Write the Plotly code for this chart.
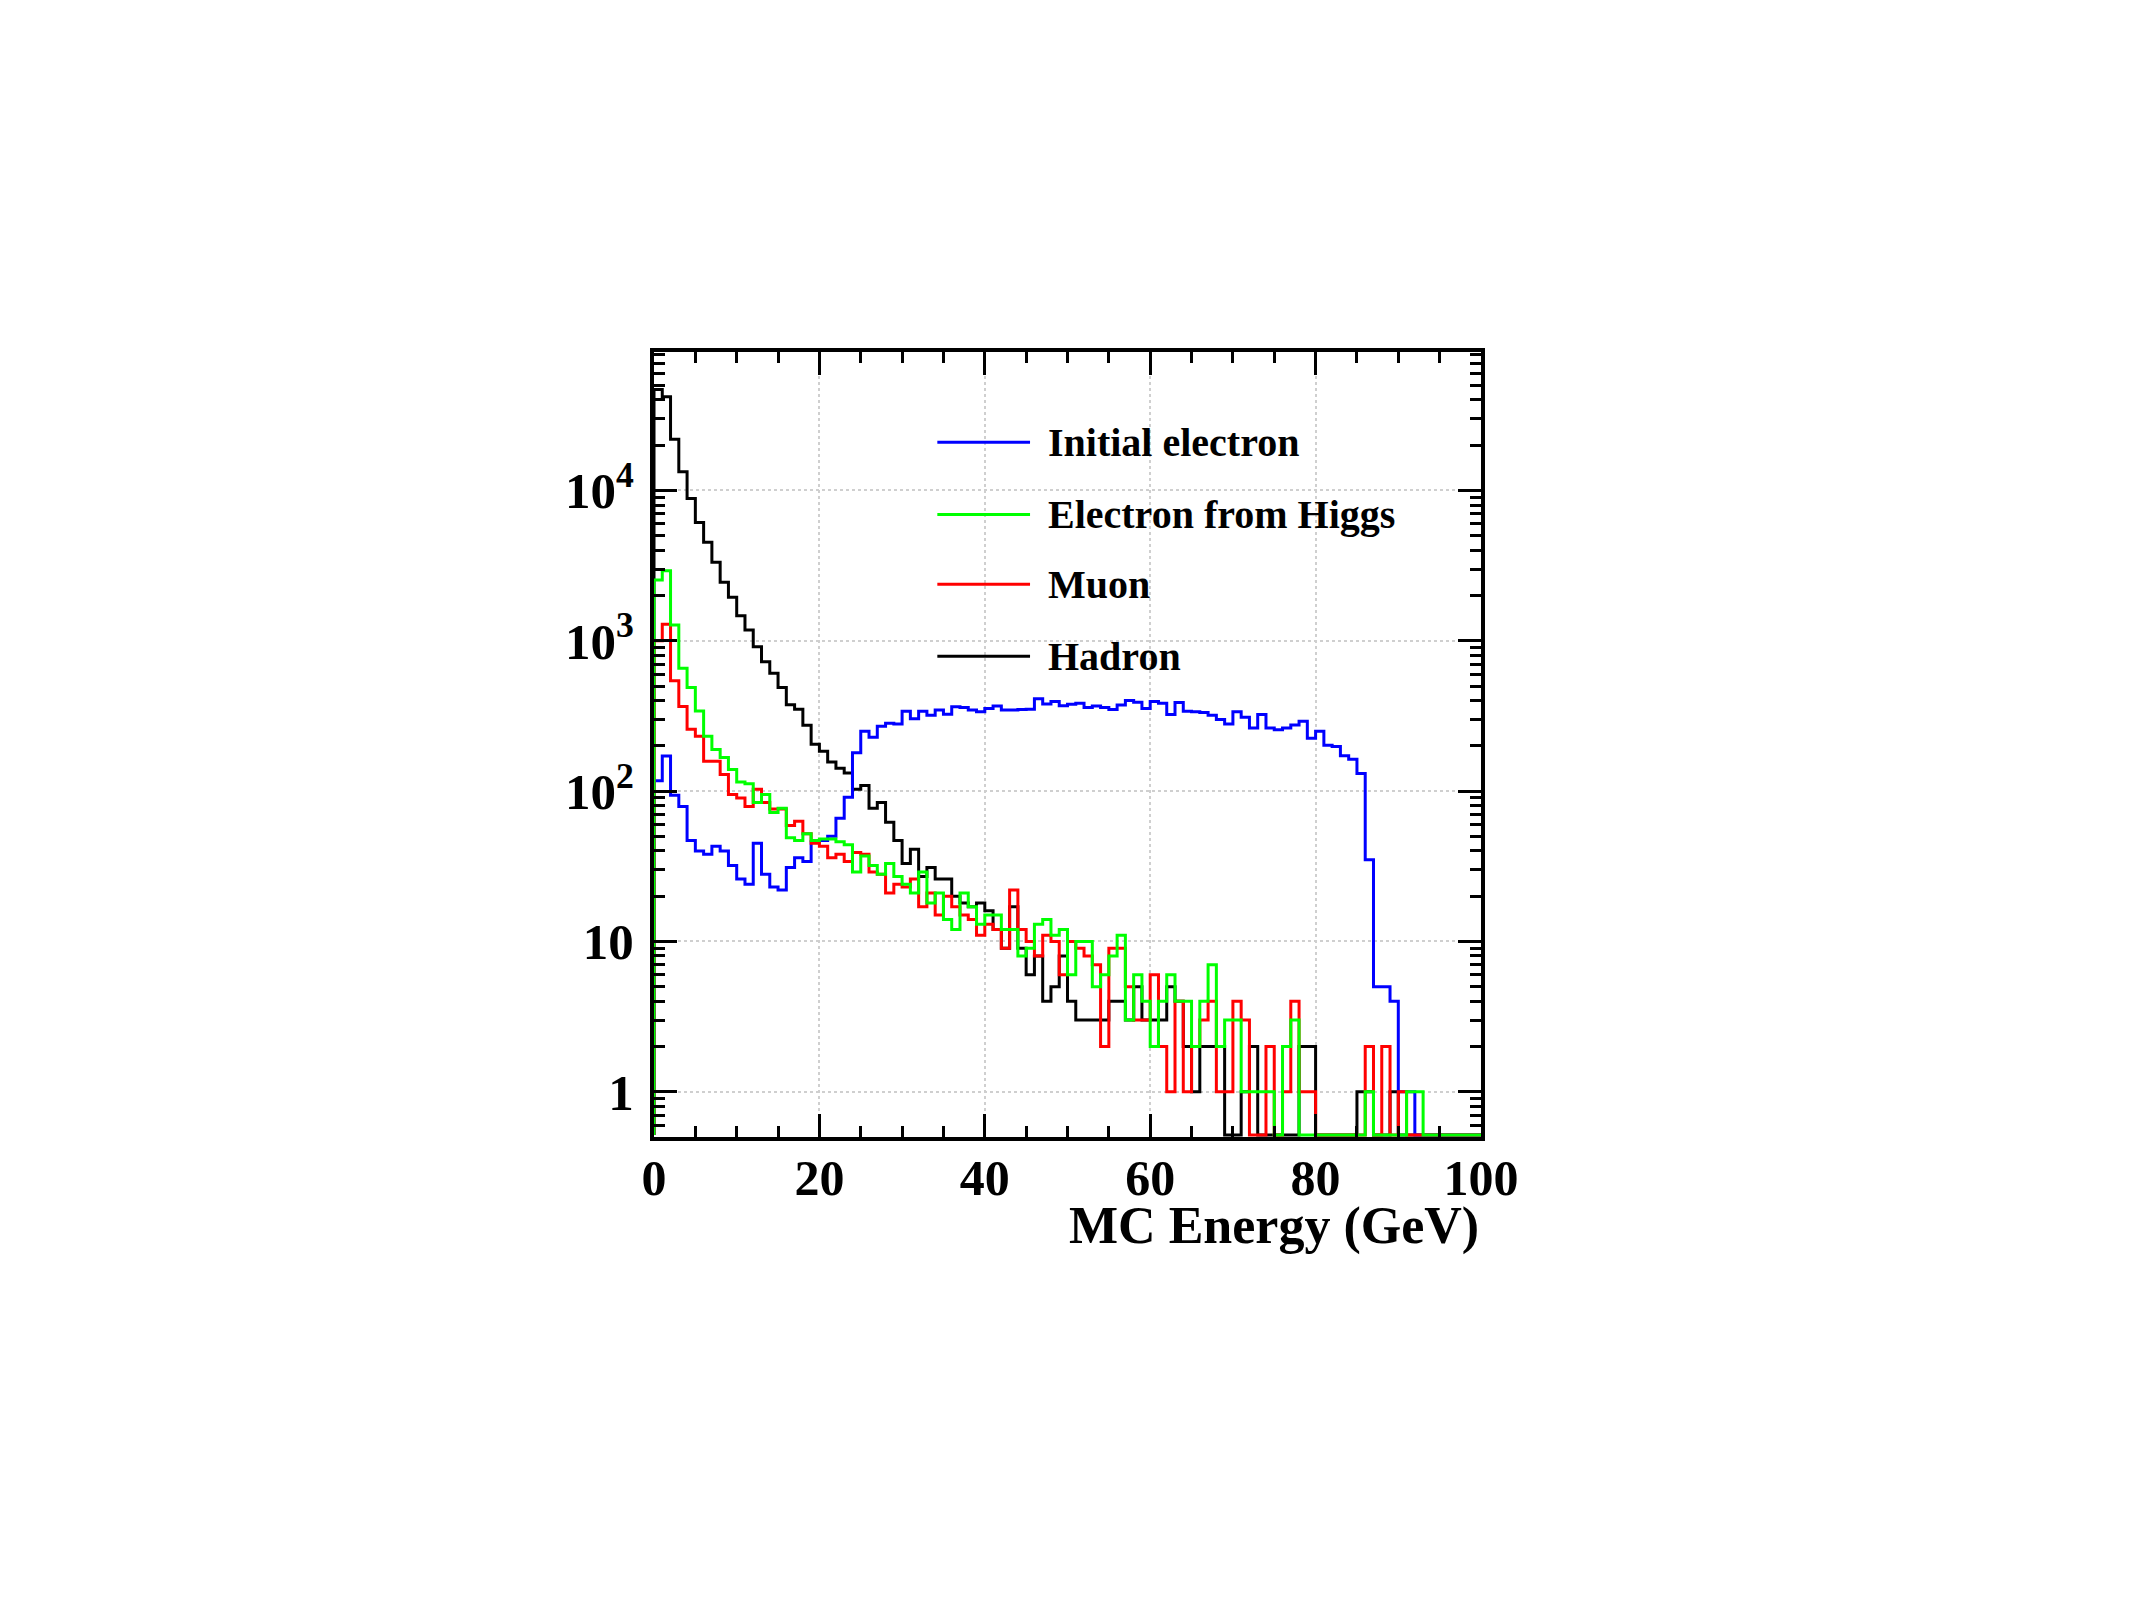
import numpy as np
import plotly.graph_objects as go

# ---------------- data (1 GeV bins, 0-100 GeV) ----------------
bin_edges = list(range(0, 101))

initial_electron = [
    117, 171, 94, 79, 47, 40, 38, 43, 40, 32,
    26, 24, 45, 28, 23, 22, 31, 36, 34, 46,
    47, 50, 66, 91, 180, 250, 228, 270, 283, 280,
    340, 303, 340, 320, 346, 325, 364, 360, 346, 337,
    355, 368, 346, 346, 349, 351, 411, 380, 394, 370,
    378, 384, 360, 368, 360, 349, 374, 400, 390, 355,
    394, 384, 323, 388, 340, 337, 333, 320, 299, 280,
    337, 310, 263, 323, 263, 256, 263, 275, 292, 225,
    250, 202, 198, 172, 163, 131, 35, 5, 5, 4,
    1, 1, 0, 0, 0, 0, 0, 0, 0, 0,
]

electron_from_higgs = [
    2535, 2923, 1274, 657, 488, 341, 232, 189, 167, 139,
    115, 112, 84, 95, 72, 77, 49, 47, 52, 47,
    48, 48, 46, 44, 29, 37, 32, 28, 33, 27,
    24, 21, 29, 18, 21, 14, 12, 21, 17, 13,
    15, 15, 12, 12, 8, 9, 13, 14, 11, 12,
    6, 10, 10, 5, 6, 8, 11, 3, 6, 4,
    2, 4, 6, 4, 4, 2, 4, 7, 2, 3,
    3, 1, 1, 1, 1, 0, 2, 3, 0, 0,
    0, 0, 0, 0, 0, 0, 1, 0, 0, 0,
    0, 1, 1, 0, 0, 0, 0, 0, 0, 0,
]

muon = [
    1000, 1290, 543, 365, 258, 232, 158, 158, 129, 95,
    90, 79, 103, 84, 76, 76, 59, 63, 52, 45,
    43, 36, 38, 34, 39, 38, 29, 28, 21, 24,
    23, 26, 17, 21, 15, 20, 17, 15, 14, 11,
    13, 12, 9, 22, 12, 10, 8, 11, 10, 6,
    10, 9, 8, 7, 2, 9, 9, 5, 3, 3,
    6, 2, 1, 4, 1, 2, 3, 4, 1, 1,
    4, 3, 0, 0, 2, 0, 1, 4, 1, 1,
    0, 0, 0, 0, 0, 0, 2, 0, 2, 0,
    1, 0, 0, 0, 0, 0, 0, 0, 0, 0,
]

hadron = [
    47000, 42000, 21900, 13300, 8850, 6130, 4515, 3325, 2447, 1945,
    1468, 1180, 914, 726, 608, 488, 375, 350, 274, 205,
    184, 156, 142, 132, 103, 109, 77, 84, 62, 47,
    33, 41, 27, 31, 26, 26, 20, 18, 17, 18,
    16, 12, 9, 17, 9, 6, 8, 4, 5, 8,
    4, 3, 3, 3, 3, 4, 4, 3, 5, 3,
    3, 3, 5, 4, 2, 1, 2, 2, 2, 0,
    0, 1, 2, 0, 0, 0, 0, 0, 2, 2,
    0, 0, 0, 0, 0, 1, 1, 0, 0, 1,
    0, 0, 0, 0, 0, 0, 0, 0, 0, 0,
]

series_names = ["Initial electron", "Electron from Higgs", "Muon", "Hadron"]
series_colors = ["#0000ff", "#00ff00", "#ff0000", "#000000"]

x_tick_vals = [0, 20, 40, 60, 80, 100]
y_tick_vals = [1, 10, 100, 1000, 10000]
y_tick_text = ["1", "10", "10<sup>2</sup>", "10<sup>3</sup>", "10<sup>4</sup>"]
x_title = "MC Energy (GeV)"

# ---------------- figure ----------------
Y_LOG_MIN = np.log10(0.5)
Y_LOG_MAX = 4.921
FLOOR = 10 ** (Y_LOG_MIN + 0.014)  # empty bins drawn on the frame bottom (ROOT style)
FONT = "Liberation Serif"


def step_xy(values):
    v = np.array(values, dtype=float)
    v = np.where(v > 0, v, FLOOR)
    x = [bin_edges[0]] + bin_edges
    y = [FLOOR] + list(v) + [v[-1]]
    return x, y


fig = go.Figure()
data_map = {
    "Initial electron": initial_electron,
    "Electron from Higgs": electron_from_higgs,
    "Muon": muon,
    "Hadron": hadron,
}
draw_order = ["Hadron", "Initial electron", "Muon", "Electron from Higgs"]
for name in draw_order:
    color = series_colors[series_names.index(name)]
    x, y = step_xy(data_map[name])
    fig.add_trace(go.Scatter(
        x=x, y=y, mode="lines", name=name,
        line=dict(color=color, width=3, shape="hv"),
        showlegend=False, hoverinfo="skip",
    ))

W, H = 2134, 1600
L, R, T, B = 654, 653, 352, 463

fig.update_layout(
    width=W, height=H, autosize=False,
    margin=dict(l=L, r=R, t=T, b=B),
    paper_bgcolor="white", plot_bgcolor="white",
    font=dict(family=FONT, color="black"),
)

fig.update_xaxes(
    range=[0, 100],
    tickvals=x_tick_vals,
    ticks="inside", ticklen=23, tickwidth=3, tickcolor="black",
    minor=dict(ticks="inside", ticklen=11, tickwidth=3, tickcolor="black", dtick=5, showgrid=False),
    showline=True, linewidth=4, linecolor="black", mirror="allticks",
    showgrid=True, gridcolor="#cfcfcf", griddash="dot", gridwidth=2,
    zeroline=False,
    ticklabelstandoff=-6,
    tickfont=dict(family=FONT, size=50, weight="bold", color="black"),
)
fig.update_yaxes(
    type="log",
    range=[Y_LOG_MIN, Y_LOG_MAX],
    tickvals=y_tick_vals, ticktext=y_tick_text,
    ticks="inside", ticklen=23, tickwidth=3, tickcolor="black",
    minor=dict(ticks="inside", ticklen=11, tickwidth=3, tickcolor="black", dtick="D1", showgrid=False),
    showline=True, linewidth=4, linecolor="black", mirror="allticks",
    showgrid=True, gridcolor="#cfcfcf", griddash="dot", gridwidth=2,
    zeroline=False,
    ticklabelstandoff=6,
    tickfont=dict(family=FONT, size=51, weight="bold", color="black"),
)

# x-axis title, right-aligned at the end of the axis (ROOT style)
fig.add_annotation(
    text=x_title, xref="paper", yref="paper", x=1.0, y=-0.114,
    xanchor="right", yanchor="middle", showarrow=False,
    font=dict(family=FONT, size=52, weight="bold", color="black"),
)

# legend (ROOT TLegend style: long line sample + bold label)
leg_x0, leg_x1, leg_tx = 0.3426, 0.4547, 0.4735
leg_rows = [0.885, 0.793, 0.704, 0.6125]
for name, color, yy in zip(series_names, series_colors, leg_rows):
    fig.add_shape(type="line", xref="paper", yref="paper",
                  x0=leg_x0, x1=leg_x1, y0=yy, y1=yy,
                  line=dict(color=color, width=3))
    fig.add_annotation(text=name, xref="paper", yref="paper", x=leg_tx, y=yy,
                       xanchor="left", yanchor="middle", showarrow=False,
                       font=dict(family=FONT, size=40, weight="bold", color="black"))

fig.write_html("out.html", config={"displayModeBar": False})
